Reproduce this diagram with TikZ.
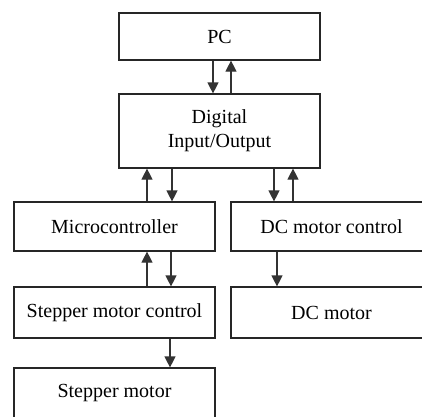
\documentclass[tikz,border=0pt]{standalone}
\usepackage{fontspec}
\setmainfont{Liberation Serif}
\usetikzlibrary{arrows.meta}
\begin{document}
\begin{tikzpicture}[x=1pt,y=-1pt,
  blk/.style={draw=black!85, line width=1.2pt, rectangle, minimum width=201pt,
    align=center, font=\fontsize{20}{24}\selectfont, inner sep=0pt},
  arr/.style={draw=black!80, line width=1.2pt, -{Triangle[width=11pt,length=11pt]}}]
\useasboundingbox (0,0) rectangle (422,416);
\clip (0,0) rectangle (422,416);
% boxes
\node[blk, minimum height=47pt] (pc) at (219.5,36.5) {PC};
\node[blk, minimum height=74pt] (dio) at (219.5,131) {Digital\\Input/Output};
\node[blk, minimum height=49pt] (mcu) at (114.5,226.5) {Microcontroller};
\node[blk, minimum height=49pt] (dcc) at (331.5,226.5) {DC motor control};
\node[blk, minimum height=51pt] (smc) at (114.5,312.5) {Stepper motor control};
\node[blk, minimum height=51pt] (dcm) at (331.5,312.5) {DC motor};
\node[blk, minimum height=50pt] (sm) at (114.5,393) {Stepper motor};
% PC <-> digital I/O
\draw[arr] ([xshift=-6.5pt]pc.south) -- ([xshift=-6.5pt]dio.north);
\draw[arr] ([xshift=11.5pt]dio.north) -- ([xshift=11.5pt]pc.south);
% digital I/O <-> microcontroller
\draw[arr] ([xshift=32.5pt]mcu.north) -- ([xshift=32.5pt]mcu.north |- dio.south);
\draw[arr] ([xshift=57.5pt]mcu.north |- dio.south) -- ([xshift=57.5pt]mcu.north);
% digital I/O <-> DC motor control
\draw[arr] ([xshift=-57.5pt]dcc.north |- dio.south) -- ([xshift=-57.5pt]dcc.north);
\draw[arr] ([xshift=-38.5pt]dcc.north) -- ([xshift=-38.5pt]dcc.north |- dio.south);
% microcontroller <-> stepper motor control
\draw[arr] ([xshift=32.5pt]smc.north) -- ([xshift=32.5pt]mcu.south);
\draw[arr] ([xshift=56.5pt]mcu.south) -- ([xshift=56.5pt]smc.north);
% drivers -> motors
\draw[arr] ([xshift=55.5pt]smc.south) -- ([xshift=55.5pt]sm.north);
\draw[arr] ([xshift=-54.5pt]dcc.south) -- ([xshift=-54.5pt]dcm.north);
\end{tikzpicture}
\end{document}
